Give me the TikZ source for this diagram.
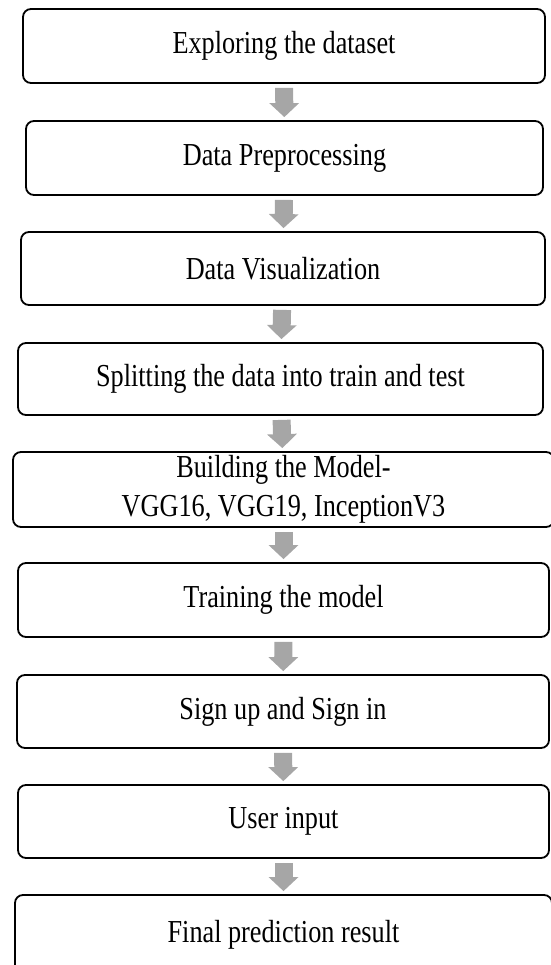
\documentclass[tikz,border=0pt]{standalone}
\usepackage{fontspec}
\setmainfont{Liberation Serif}[FakeStretch=0.82]
\usepackage{tikz}
\usetikzlibrary{arrows.meta,shapes,positioning}
\definecolor{arrowgray}{HTML}{A6A6A6}

\begin{document}
\begin{tikzpicture}[x=1pt,y=-1pt]
\useasboundingbox (0,0) rectangle (550,965);
\tikzset{stage/.style = {draw,line width=1.8pt,rounded corners=8pt,inner sep=0pt,align=center,
  font=\fontsize{32}{34}\selectfont}}
\tikzset{edge/.style = {-{Triangle[width=29pt,length=14pt]},line width=18pt,draw=arrowgray,
  fill=arrowgray,shorten <=4pt,shorten >=3pt}}
%stages of the pipeline, top to bottom
\node[stage,minimum width=522pt,minimum height=74pt] (explore) at (284,46) {Exploring the dataset};
\node[stage,minimum width=517pt,minimum height=74pt] (prep) at (284.5,158) {Data Preprocessing};
\node[stage,minimum width=524pt,minimum height=73pt] (visual) at (283,268.5) {Data Visualization};
\node[stage,minimum width=525pt,minimum height=72pt] (split) at (280.5,379) {Splitting the data into train and test};
%model box is wider and runs off the right edge
\node[stage,minimum width=541pt,minimum height=75pt] (model) at (283.5,489.5) {Building the Model-\\[5pt]VGG16, VGG19, InceptionV3};
\node[stage,minimum width=531pt,minimum height=74pt] (train) at (283.5,600) {Training the model};
\node[stage,minimum width=532pt,minimum height=73pt] (sign) at (283,711.5) {Sign up and Sign in};
\node[stage,minimum width=531pt,minimum height=73pt] (user) at (283.5,821.5) {User input};
%last box is cut at the bottom
\node[stage,minimum width=537pt,minimum height=80pt] (result) at (283.5,935) {Final prediction result};
%gray block arrows between the stages
\draw[edge] (explore) to (prep);
\draw[edge] (prep) to (visual);
\draw[edge] (visual) to (split);
\draw[edge] (split) to (model);
\draw[edge] (model) to (train);
\draw[edge] (train) to (sign);
\draw[edge] (sign) to (user);
\draw[edge] (user) to (result);
\end{tikzpicture}
\end{document}
